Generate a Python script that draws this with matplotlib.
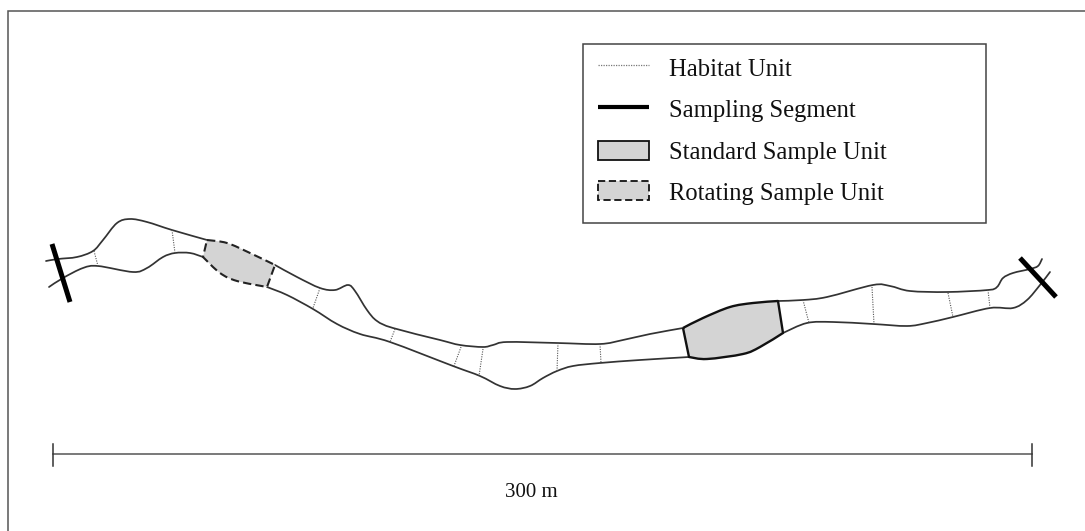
import numpy as np
import matplotlib
matplotlib.use("Agg")
import matplotlib.pyplot as plt
from matplotlib.path import Path
from matplotlib.patches import PathPatch, Rectangle

# In picture units
upper_left = [(46,261),(58,259),(77,257),(93,251),(103,240),(117,223),(130,219),(147,222),(172,230),(207,240)]
upper_rot = [(207,240),(227,243),(250,253),(275,265)]
upper_mid = [(275,265),(297,277),(320,288),(335,290),(348,285),(355,291),(367,310),(377,321),(393,328),(440,340),
             (460,345),(483,347),(493,345),(507,342),(557,343),(600,344),(623,340),(650,334),(683,328)]
upper_std = [(683,328),(703,318),(730,307),(753,303),(778,301)]
upper_right = [(778,301),(803,300),(827,297),(873,285),(890,286),(910,291),(947,292),(988,290),(997,287),(1003,278),
               (1013,273),(1030,269),(1038,266),(1042,259)]

lower_left = [(49,287),(63,278),(83,268),(98,266),(133,272),(147,268),(163,257),(175,253),(190,253),(203,257)]
lower_rot = [(203,257),(220,273),(237,281),(267,287)]
lower_mid = [(267,287),(287,295),(313,309),(337,324),(360,334),(390,342),(453,366),(480,376),(500,386),(515,389),(530,386),
             (543,378),(557,371),(573,366),(600,363),(640,360),(689,357)]
lower_std = [(689,357),(707,359),(743,354),(760,347),(783,333)]
lower_right = [(783,333),(807,323),(833,322),(873,324),(907,326),(927,323),(953,317),(990,308),(1013,308),(1027,300),
               (1040,285),(1050,272)]

habitat_units = [((94,251),(98,266)),((172,230),(175,253)),((320,288),(313,308)),((395,329),(390,342)),
                 ((461,347),(454,366)),((483,349),(479,376)),((558,343),(557,371)),((600,344),(601,363)),
                 ((803,300),(809,323)),((872,287),(874,324)),((948,293),(953,317)),((988,290),(990,308))]
segment_ends = [((52,244),(70,302)),((1020,258),(1056,297))]
scale_x = [53, 1032]
scale_label = "300 m"
legend_labels = ["Habitat Unit", "Sampling Segment", "Standard Sample Unit", "Rotating Sample Unit"]

GREY = "#d4d4d4"
INK = "#333333"
SERIF = "Liberation Serif"

fig = plt.figure(figsize=(10.85, 5.31), dpi=100)
ax = fig.add_axes([0, 0, 1, 1])
ax.set_xlim(0, 1085)
ax.set_ylim(531, 0)
ax.axis("off")


def smooth(points):
    """Bezier path passing through the points that were read."""
    p = np.asarray(points, float)
    verts = [p[0]]
    codes = [Path.MOVETO]
    for i in range(len(p) - 1):
        before = p[max(i - 1, 0)]
        after = p[min(i + 2, len(p) - 1)]
        verts += [p[i] + (p[i + 1] - before) / 6, p[i + 1] - (after - p[i]) / 6, p[i + 1]]
        codes += [Path.CURVE4] * 3
    return verts, codes


def bank(points, **kw):
    verts, codes = smooth(points)
    ax.add_patch(PathPatch(Path(verts, codes), fill=False, capstyle="round", **kw))


def unit(top, bottom, **kw):
    v1, c1 = smooth(top)
    v2, c2 = smooth(bottom[::-1])
    verts = v1 + [v2[0]] + v2[1:] + [v1[0]]
    codes = c1 + [Path.LINETO] + c2[1:] + [Path.LINETO]
    ax.add_patch(PathPatch(Path(verts, codes), facecolor=GREY, joinstyle="round", **kw))


# Frame (open at the right and the bottom)
ax.plot([8, 8, 1085], [531, 11, 11], color="#555555", lw=1.1, solid_joinstyle="miter")

# Stream banks
for part in (upper_left, upper_mid, upper_right, lower_left, lower_mid, lower_right):
    bank(part, edgecolor=INK, lw=1.25)

# Habitat units
for a, b in habitat_units:
    ax.plot([a[0], b[0]], [a[1], b[1]], color="#555555", lw=0.8, ls=(0, (1, 1.2)))

# Sample units
unit(upper_rot, lower_rot, edgecolor="#222222", lw=1.5, ls=(0, (4, 2)))
unit(upper_std, lower_std, edgecolor="#111111", lw=1.7)

# Sampling segment ends
for a, b in segment_ends:
    ax.plot([a[0], b[0]], [a[1], b[1]], color="black", lw=3.6, solid_capstyle="butt")

# Scale bar
ax.plot(scale_x, [454, 454], color="#555555", lw=1.1)
for x in scale_x:
    ax.plot([x, x], [444, 466], color="#333333", lw=1.1)
ax.text(sum(scale_x) / 2 - 11, 497, scale_label, family=SERIF, fontsize=15, color="#111111", ha="center", va="baseline")

# Legend
ax.add_patch(Rectangle((583, 44), 403, 179, facecolor="white", edgecolor="#444444", lw=1.1, zorder=5))
ax.plot([598, 649], [65, 65], color="#777777", lw=0.9, ls=(0, (1, 1)), zorder=6)
ax.plot([598, 649], [107, 107], color="black", lw=3.0, solid_capstyle="butt", zorder=6)
ax.add_patch(Rectangle((598, 141), 51, 19, facecolor=GREY, edgecolor="#111111", lw=1.3, zorder=6))
ax.add_patch(Rectangle((598, 181), 51, 19, facecolor=GREY, edgecolor="#111111", lw=1.3, ls=(0, (4, 2)), zorder=6))
for label, y in zip(legend_labels, [76, 117, 158.5, 200]):
    ax.text(669, y, label, family=SERIF, fontsize=17.7, color="#111111", ha="left", va="baseline", zorder=6)

fig.savefig("out.png", dpi=100)
